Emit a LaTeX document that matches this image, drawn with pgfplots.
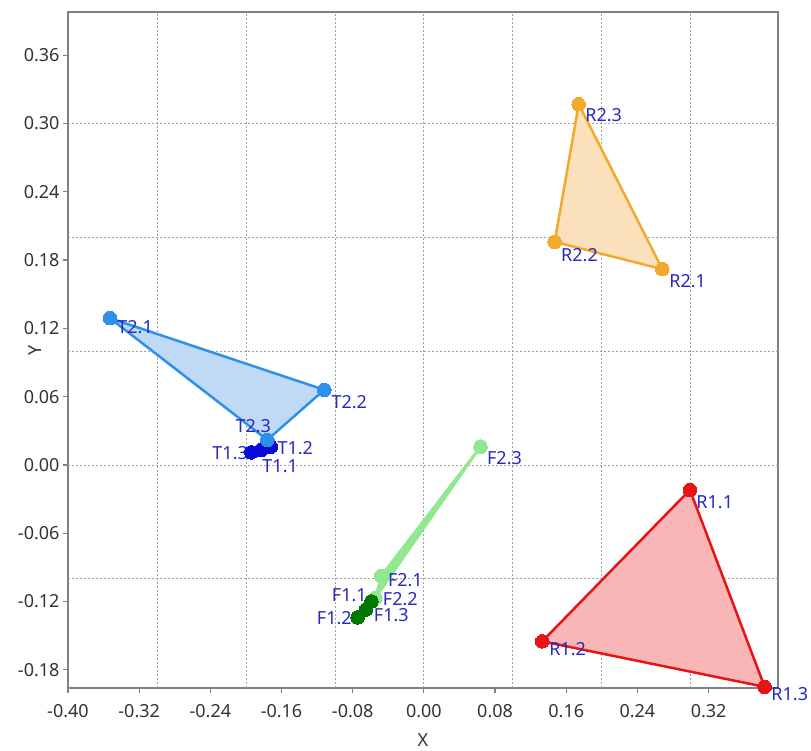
\documentclass[border=0pt]{standalone}
\usepackage{fontspec}
\setmainfont{Noto Sans}
\usepackage{pgfplots}
\pgfplotsset{compat=1.18}
\definecolor{lbl}{RGB}{40,40,195}
\definecolor{cR}{RGB}{232,20,20}
\definecolor{cRf}{RGB}{248,182,182}
\definecolor{cO}{RGB}{242,170,45}
\definecolor{cOf}{RGB}{251,224,188}
\definecolor{cB}{RGB}{45,145,235}
\definecolor{cBf}{RGB}{192,218,246}
\definecolor{cDB}{RGB}{10,10,215}
\definecolor{cLG}{RGB}{145,232,145}
\definecolor{cDG}{RGB}{0,120,0}
\begin{document}
\begin{tikzpicture}[x=1pt,y=1pt]
\path[use as bounding box] (-68,-63) rectangle (743,688);
\begin{axis}[
  at={(0,0)}, anchor=south west,
  scale only axis, width=710pt, height=676pt,
  xmin=-0.4, xmax=0.398, ymin=-0.196, ymax=0.398,
  clip=false,
  xtick={-0.40,-0.32,-0.24,-0.16,-0.08,0,0.08,0.16,0.24,0.32},
  xticklabels={-0.40,-0.32,-0.24,-0.16,-0.08,0.00,0.08,0.16,0.24,0.32},
  ytick={-0.18,-0.12,-0.06,0,0.06,0.12,0.18,0.24,0.30,0.36},
  yticklabels={-0.18,-0.12,-0.06,0.00,0.06,0.12,0.18,0.24,0.30,0.36},
  tick pos=left, tick align=outside, major tick length=5pt,
  extra x ticks={-0.3,-0.2,-0.1,0,0.1,0.2,0.3}, extra x tick labels={},
  extra x tick style={grid=major, major tick length=0pt},
  extra y ticks={-0.1,0,0.1,0.2,0.3}, extra y tick labels={},
  extra y tick style={grid=major, major tick length=0pt},
  grid style={gray!75, dash pattern=on 2pt off 2pt, line width=0.8pt},
  axis line style={gray, line width=1.5pt},
  tick style={gray, line width=1.2pt},
  ticklabel style={font=\fontsize{18}{21}\selectfont, text=black!80},
  xticklabel style={yshift=-8pt},
  xlabel={X}, ylabel={Y},
  label style={font=\fontsize{18}{21}\selectfont, text=black!80},
  xlabel style={at={(axis description cs:0.5,-0.077)}, anchor=center},
  ylabel style={at={(axis description cs:-0.046,0.5)}, anchor=center, rotate=0},
  mark size=6.8pt,
]
% R1
\addplot[draw=cR, fill=cRf, line width=2.5pt, line join=round, mark=*, mark options={fill=cR, draw=cR, line width=0pt}]
  coordinates {(0.299,-0.022) (0.133,-0.155) (0.383,-0.195) (0.299,-0.022)};
% R2
\addplot[draw=cO, fill=cOf, line width=2.5pt, line join=round, mark=*, mark options={fill=cO, draw=cO, line width=0pt}]
  coordinates {(0.268,0.172) (0.147,0.196) (0.174,0.317) (0.268,0.172)};
% T1
\addplot[draw=cDB, fill=cDB!40, line width=2.5pt, line join=round, mark=*, mark options={fill=cDB, draw=cDB, line width=0pt}]
  coordinates {(-0.183,0.013) (-0.172,0.016) (-0.194,0.011) (-0.183,0.013)};
% T2
\addplot[draw=cB, fill=cBf, line width=2.5pt, line join=round, mark=*, mark options={fill=cB, draw=cB, line width=0pt}]
  coordinates {(-0.353,0.129) (-0.112,0.066) (-0.176,0.022) (-0.353,0.129)};
% F2
\addplot[draw=cLG, fill=cLG, line width=2.5pt, line join=round, mark=*, mark options={fill=cLG, draw=cLG, line width=0pt}]
  coordinates {(-0.048,-0.0975) (-0.0546,-0.117) (0.0636,0.016) (-0.048,-0.0975)};
% F1
\addplot[draw=cDG, fill=cDG, line width=2.5pt, line join=round, mark=*, mark options={fill=cDG, draw=cDG, line width=0pt}]
  coordinates {(-0.059,-0.120) (-0.0745,-0.134) (-0.065,-0.127) (-0.059,-0.120)};
% labels
\begin{scope}[every node/.style={font=\fontsize{18}{21}\selectfont, text=lbl, inner sep=0pt}]
\node at (axis cs:0.3269,-0.0325) {R1.1};
\node at (axis cs:0.1615,-0.1617) {R1.2};
\node at (axis cs:0.4112,-0.2012) {R1.3};
\node at (axis cs:0.2965,0.1617) {R2.1};
\node at (axis cs:0.1749,0.1845) {R2.2};
\node at (axis cs:0.2020,0.3076) {R2.3};
\node at (axis cs:-0.3246,0.1213) {T2.1};
\node at (axis cs:-0.0838,0.0554) {T2.2};
\node at (axis cs:-0.1918,0.0343) {T2.3};
\node at (axis cs:-0.1446,0.0149) {T1.2};
\node at (axis cs:-0.2177,0.0105) {T1.3};
\node at (axis cs:-0.1615,-0.0009) {T1.1};
\node at (axis cs:0.0906,0.0062) {F2.3};
\node at (axis cs:-0.0208,-0.1011) {F2.1};
\node at (axis cs:-0.0265,-0.1176) {F2.2};
\node at (axis cs:-0.0838,-0.1142) {F1.1};
\node at (axis cs:-0.0366,-0.1320) {F1.3};
\node at (axis cs:-0.1007,-0.1344) {F1.2};
\end{scope}
\end{axis}
\end{tikzpicture}
\end{document}
